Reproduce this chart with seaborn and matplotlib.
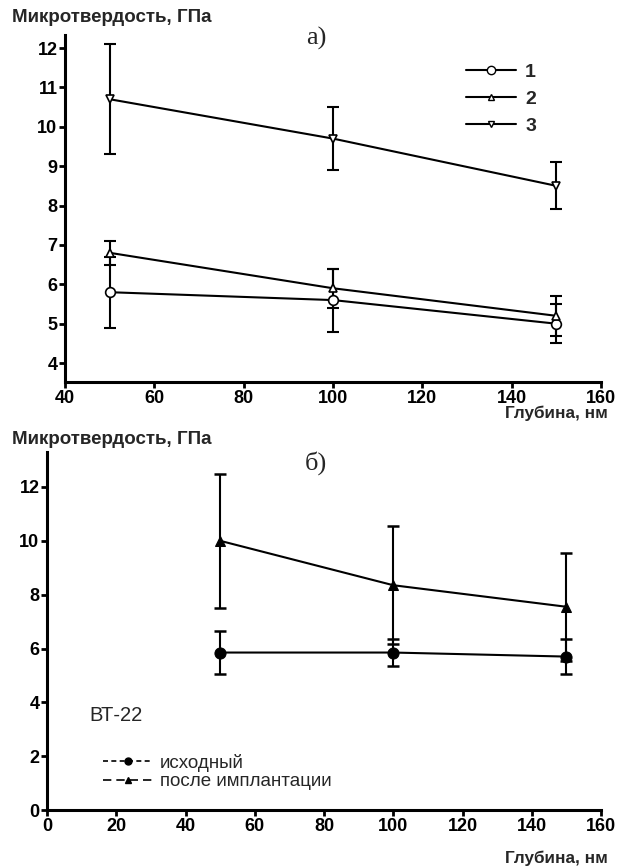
import matplotlib
matplotlib.use("Agg")
import matplotlib.pyplot as plt
from matplotlib.lines import Line2D
import seaborn as sns
import pandas as pd
import numpy as np

sns.set_theme(style="ticks")
plt.rcParams['font.family'] = ['Liberation Sans', 'DejaVu Sans']

# ---- data: panel a ----
depth_a = [50, 100, 150]
s1_vals = [5.8, 5.6, 5.0]
s1_err = [0.9, 0.8, 0.5]
s2_vals = [6.8, 5.9, 5.2]
s2_err = [0.3, 0.5, 0.5]
s3_vals = [10.7, 9.7, 8.5]
s3_err = [1.4, 0.8, 0.6]
labels_a = ["1", "2", "3"]

# ---- data: panel b ----
depth_b = [50, 100, 150]
ish_vals = [5.85, 5.85, 5.7]
ish_err = [0.8, 0.5, 0.65]
imp_vals = [10.0, 8.35, 7.55]
imp_err = [2.5, 2.2, 2.0]
labels_b = ["исходный", "после имплантации"]

ylabel = "Микротвердость, ГПа"
xlabel = "Глубина, нм"

fig = plt.figure(figsize=(6.27, 8.67), dpi=100)
ax1 = fig.add_axes([0.1037, 0.5594, 0.855, 0.4002])
ax2 = fig.add_axes([0.075, 0.0657, 0.8836, 0.413])

def style_axis(ax):
    sns.despine(ax=ax)
    for sp in ['left', 'bottom']:
        ax.spines[sp].set_linewidth(2.2)
        ax.spines[sp].set_color('black')
    ax.tick_params(axis='both', direction='out', length=4.5, width=2, colors='black',
                   labelsize=13, pad=1)
    for lab in ax.get_xticklabels() + ax.get_yticklabels():
        lab.set_fontweight('bold')
    ax.set_facecolor('white')

# ---- panel a ----
df_a = pd.DataFrame({
    'depth': depth_a * 3,
    'val': s1_vals + s2_vals + s3_vals,
    'err': s1_err + s2_err + s3_err,
    'series': sum([[l] * 3 for l in labels_a], []),
})
markers_a = {'1': 'o', '2': '^', '3': 'v'}
msize_a = {'1': 7, '2': 6, '3': 6}
for lab in labels_a:
    d = df_a[df_a.series == lab]
    ax1.errorbar(d.depth, d.val, yerr=d.err, fmt='none', ecolor='black',
                 elinewidth=1.5, capsize=4.5, capthick=1.5, zorder=2)
    sns.lineplot(data=d, x='depth', y='val', ax=ax1, color='black', linewidth=1.5,
                 marker=markers_a[lab], markersize=msize_a[lab], markerfacecolor='white',
                 markeredgecolor='black', markeredgewidth=1.2, legend=False, zorder=3)

ax1.set_xlim(40, 160)
ax1.set_ylim(3.52, 12.33)
ax1.set_xticks([40, 60, 80, 100, 120, 140, 160])
ax1.set_yticks([4, 5, 6, 7, 8, 9, 10, 11, 12])
ax1.set_xlabel('')
ax1.set_ylabel('')
style_axis(ax1)

handles_a = [Line2D([0], [0], color='black', lw=1.5, marker=markers_a[l],
                    markersize=msize_a[l] - 1, markerfacecolor='white',
                    markeredgecolor='black') for l in labels_a]
leg1 = ax1.legend(handles_a, labels_a, loc='upper left', bbox_to_anchor=(0.715, 0.97),
                  frameon=False, handlelength=2.6, handletextpad=0.45, labelspacing=0.5,
                  prop=dict(size=14, weight='bold'))

fig.text(12 / 627, 1 - 18 / 867, ylabel, fontsize=13.5, fontweight='bold', va='center', ha='left')
fig.text(608 / 627, 1 - 413 / 867, xlabel, fontsize=12.3, fontweight='bold', va='center', ha='right')
fig.text(316 / 627, 1 - 38 / 867, "а)", fontsize=19, family='Liberation Serif', va='center', ha='center')

# ---- panel b ----
df_b = pd.DataFrame({
    'depth': depth_b * 2,
    'val': ish_vals + imp_vals,
    'err': ish_err + imp_err,
    'series': sum([[l] * 3 for l in labels_b], []),
})
markers_b = {labels_b[0]: 'o', labels_b[1]: '^'}
msize_b = {labels_b[0]: 8, labels_b[1]: 7}
for lab in labels_b:
    d = df_b[df_b.series == lab]
    ax2.errorbar(d.depth, d.val, yerr=d.err, fmt='none', ecolor='black',
                 elinewidth=1.5, capsize=4.5, capthick=1.8, zorder=2)
    sns.lineplot(data=d, x='depth', y='val', ax=ax2, color='black', linewidth=1.5,
                 marker=markers_b[lab], markersize=msize_b[lab], markerfacecolor='black',
                 markeredgecolor='black', legend=False, zorder=3)

ax2.set_xlim(0, 160)
ax2.set_ylim(0, 13.3)
ax2.set_xticks([0, 20, 40, 60, 80, 100, 120, 140, 160])
ax2.set_yticks([0, 2, 4, 6, 8, 10, 12])
ax2.set_xlabel('')
ax2.set_ylabel('')
style_axis(ax2)

handles_b = [Line2D([0], [0], color='black', lw=1.2, linestyle=(0, (3, 2)), marker='o', markersize=5),
             Line2D([0], [0], color='black', lw=1.2, linestyle=(0, (5, 3)), marker='^', markersize=5)]
leg2 = ax2.legend(handles_b, labels_b, loc='upper left', bbox_to_anchor=(0.07, 0.205),
                  frameon=False, handlelength=2.7, handletextpad=0.35, labelspacing=0.08,
                  prop=dict(size=13.5))
ax2.text(0.077, 0.265, "ВТ-22", transform=ax2.transAxes, fontsize=14.5, va='center', ha='left')

fig.text(12 / 627, 1 - 440 / 867, ylabel, fontsize=13.5, fontweight='bold', va='center', ha='left')
fig.text(608 / 627, 1 - 858 / 867, xlabel, fontsize=12.3, fontweight='bold', va='center', ha='right')
fig.text(316 / 627, 1 - 463 / 867, "б)", fontsize=19, family='Liberation Serif', va='center', ha='center')

fig.patch.set_facecolor('white')
fig.savefig("out.png", dpi=100, facecolor='white')
